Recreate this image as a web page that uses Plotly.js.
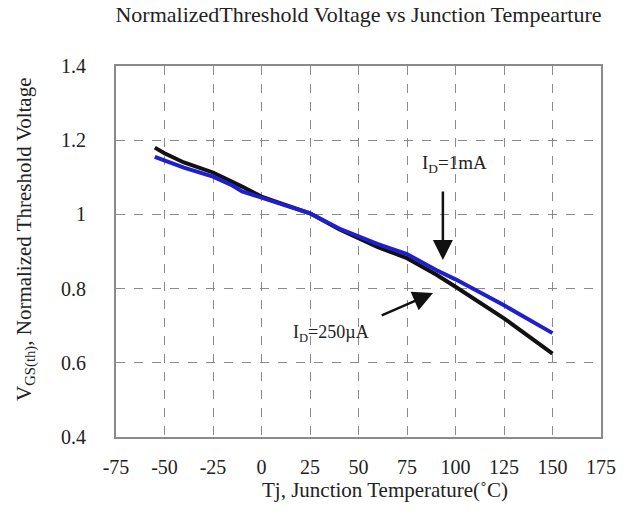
<!DOCTYPE html>
<html>
<head>
<meta charset="utf-8">
<script src="https://cdn.plot.ly/plotly-3.0.1.min.js"></script>
<style>
  html, body { margin: 0; padding: 0; background: #fff; }
  #chart { width: 627px; height: 520px; }
</style>
</head>
<body>
<div id="chart"></div>
<script>
// Junction temperature (°C) sample points
const tempId250uA = [-55, -50, -40, -25, -10, 0, 10, 25, 40, 50, 60, 75, 90, 100, 110, 125, 150];
const vthId250uA  = [1.180, 1.165, 1.140, 1.113, 1.075, 1.048, 1.030, 1.003, 0.960, 0.935, 0.912, 0.882, 0.838, 0.805, 0.772, 0.720, 0.625];

const tempId1mA = [-55, -50, -40, -25, -15, -10, 0, 10, 25, 40, 50, 60, 75, 90, 100, 110, 125, 150];
const vthId1mA  = [1.155, 1.145, 1.126, 1.102, 1.078, 1.062, 1.045, 1.028, 1.003, 0.962, 0.940, 0.920, 0.893, 0.850, 0.825, 0.797, 0.755, 0.680];

// Axis ticks (plain hyphen for negatives)
const xTicks = [-75, -50, -25, 0, 25, 50, 75, 100, 125, 150, 175];
const xTickText = ['-75', '-50', '-25', '0', '25', '50', '75', '100', '125', '150', '175'];
const yTicks = [0.4, 0.6, 0.8, 1.0, 1.2, 1.4];
const yTickText = ['0.4', '0.6', '0.8', '1', '1.2', '1.4'];

const serif = 'Liberation Serif, Times New Roman, serif';

const traces = [
  {
    x: tempId250uA, y: vthId250uA, type: 'scatter', mode: 'lines',
    name: 'ID=250µA', line: { color: '#111111', width: 4 }
  },
  {
    x: tempId1mA, y: vthId1mA, type: 'scatter', mode: 'lines',
    name: 'ID=1mA', line: { color: '#1f1fd2', width: 4 }
  }
];

const axisCommon = {
  showline: true, mirror: true, linecolor: '#8a8a8a', linewidth: 2,
  showgrid: true, gridcolor: '#8a8a8a', gridwidth: 1, griddash: 'dash',
  zeroline: false, ticks: '', tickmode: 'array',
  tickfont: { family: serif, size: 20, color: '#222' }
};

const layout = {
  width: 627, height: 520,
  margin: { l: 116, r: 26, t: 66, b: 83 },
  paper_bgcolor: '#ffffff', plot_bgcolor: '#ffffff',
  showlegend: false,
  title: {
    text: 'NormalizedThreshold Voltage vs Junction Tempearture',
    font: { family: serif, size: 22, color: '#222' },
    x: 0.5, xref: 'paper', xanchor: 'center',
    y: 1, yref: 'container', yanchor: 'top', pad: { t: 7 }
  },
  xaxis: Object.assign({}, axisCommon, {
    range: [-75, 175], tickvals: xTicks, ticktext: xTickText,
    ticklabelstandoff: 11
  }),
  yaxis: Object.assign({}, axisCommon, {
    range: [0.4, 1.4], tickvals: yTicks, ticktext: yTickText,
    ticklabelstandoff: 24
  }),
  annotations: [
    // axis titles
    {
      xref: 'paper', yref: 'paper', x: 0.555, y: -0.143,
      xanchor: 'center', yanchor: 'middle', showarrow: false,
      text: 'Tj, Junction Temperature(˚C)',
      font: { family: serif, size: 21, color: '#222' }
    },
    {
      xref: 'paper', yref: 'paper', x: -0.187, y: 0.532,
      xanchor: 'center', yanchor: 'middle', showarrow: false, textangle: -90,
      text: 'V<sub>GS(th)</sub>, Normalized Threshold Voltage',
      font: { family: serif, size: 21, color: '#222' }
    },
    // current labels and pointers
    {
      x: 93.5, y: 0.877, ax: 93.5, ay: 1.066, axref: 'x', ayref: 'y',
      text: '', showarrow: true, arrowhead: 2, arrowsize: 1.6, arrowwidth: 2.5,
      arrowcolor: '#111'
    },
    {
      x: 99.5, y: 1.135, text: 'I<sub>D</sub>=1mA', showarrow: false,
      font: { family: serif, size: 19, color: '#222' }
    },
    {
      x: 88.4, y: 0.788, ax: 61.2, ay: 0.726, axref: 'x', ayref: 'y',
      text: '', showarrow: true, arrowhead: 2, arrowsize: 1.6, arrowwidth: 2.5,
      arrowcolor: '#111'
    },
    {
      x: 36, y: 0.68, text: 'I<sub>D</sub>=250µA', showarrow: false,
      font: { family: serif, size: 18, color: '#222' }
    }
  ]
};

Plotly.newPlot('chart', traces, layout, { staticPlot: true, displayModeBar: false });
</script>
</body>
</html>
